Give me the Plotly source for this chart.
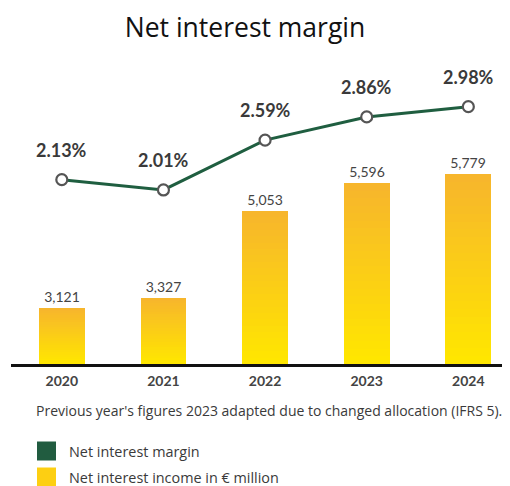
import plotly.graph_objects as go

years = ["2020", "2021", "2022", "2023", "2024"]
nii = [3121, 3327, 5053, 5596, 5779]          # Net interest income in € million
nim = [2.13, 2.01, 2.59, 2.86, 2.98]           # Net interest margin in %
nii_labels = ["3,121", "3,327", "5,053", "5,596", "5,779"]
nim_labels = ["2.13%", "2.01%", "2.59%", "2.86%", "2.98%"]

NUM_FONT = "Lato"
TXT_FONT = "Open Sans"
Y_FLOOR, Y_TOP = 2019, 8035
Y2_FLOOR, Y2_TOP = -0.016, 3.523

TOP_COL = (247, 182, 44)
BOT_COL = (255, 230, 0)
N = 24

# page body has an 8px margin: figure is drawn 8px in from the window corner
OFF = 8
W, H = 510 - OFF, 486 - OFF
PX_L, PX_T, PX_B = 11, 60, 364          # plot area edges in window pixels
PW, PH = 510 - PX_L, PX_B - PX_T


def px(xw):
    return (xw - PX_L) / PW


def py(yw):
    return (PX_B - yw) / PH


fig = go.Figure()

# Bars with a vertical gradient (orange at top to yellow at bottom) built from layered bars
for k in range(N):
    frac = 1 - k / N
    t = k / (N - 1)
    c = tuple(round(TOP_COL[i] + (BOT_COL[i] - TOP_COL[i]) * t) for i in range(3))
    ys = [Y_FLOOR + (v - Y_FLOOR) * frac for v in nii]
    fig.add_trace(go.Bar(
        x=years, y=ys, width=0.45,
        marker=dict(color="rgb(%d,%d,%d)" % c, line=dict(width=0)),
        text=nii_labels if k == 0 else None,
        textposition="outside" if k == 0 else "none",
        textfont=dict(family=NUM_FONT, size=14, color="#444444"),
        cliponaxis=False, showlegend=False, hoverinfo="skip" if k else None,
        name="Net interest income in € million",
    ))

fig.add_trace(go.Scatter(
    x=years, y=nim, yaxis="y2", mode="lines+markers",
    line=dict(color="#1F5E40", width=3),
    marker=dict(size=11, color="white", line=dict(color="#555555", width=2.2)),
    showlegend=False, name="Net interest margin", cliponaxis=False,
))

for i, (yv, lab) in enumerate(zip(nim, nim_labels)):
    fig.add_annotation(x=i, xref="x", y=yv, yref="y2", text=lab, showarrow=False,
                       yshift=30, font=dict(family=NUM_FONT, size=18, color="#3a3a3a", weight="bold"))

# Note
fig.add_annotation(xref="paper", yref="paper", x=px(34), y=py(410),
                   xanchor="left", yanchor="middle", showarrow=False,
                   text="Previous year's figures 2023 adapted due to changed allocation (IFRS 5).",
                   font=dict(family=TXT_FONT, size=14, color="#3a3a3a"))

# Manual legend
legend_items = [("Net interest margin", "#215C40", 451), ("Net interest income in € million", "#FDCF12", 477)]
for label, col, cy in legend_items:
    fig.add_shape(type="rect", xref="paper", yref="paper",
                  x0=px(37), x1=px(56), y0=py(cy - 9.5), y1=py(cy + 9.5),
                  fillcolor=col, line=dict(width=0))
    fig.add_annotation(xref="paper", yref="paper", x=px(67), y=py(cy),
                       xanchor="left", yanchor="middle", showarrow=False, text=label,
                       font=dict(family=TXT_FONT, size=14.4, color="#3a3a3a"))

fig.update_layout(
    width=W, height=H,
    margin=dict(l=PX_L - OFF, r=0, t=PX_T - OFF, b=H - (PX_B - OFF)),
    paper_bgcolor="white", plot_bgcolor="white",
    barmode="overlay", bargap=0,
    title=dict(text="Net interest margin", x=(245 - OFF) / W, xanchor="center", xref="container",
               y=1 - (28 - OFF) / H, yanchor="middle", yref="container",
               font=dict(family=TXT_FONT, size=26.5, color="#111111")),
    xaxis=dict(type="category", range=[-0.5, 4.41], showgrid=False, zeroline=False,
               showline=True, linecolor="#111111", linewidth=2.5, ticks="",
               tickfont=dict(family=NUM_FONT, size=14, color="#444444", weight="bold"),
               ticklabelstandoff=2),
    yaxis=dict(range=[Y_FLOOR, Y_TOP], visible=False, showgrid=False),
    yaxis2=dict(range=[Y2_FLOOR, Y2_TOP], overlaying="y", visible=False, showgrid=False),
    showlegend=False,
)

fig.write_html("out.html")
